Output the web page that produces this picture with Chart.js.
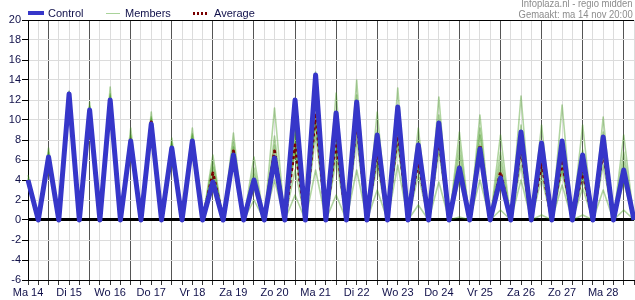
<!DOCTYPE html>
<html><head><meta charset="utf-8">
<script src="https://cdn.jsdelivr.net/npm/chart.js@4/dist/chart.umd.min.js"></script>
<style>
html,body{margin:0;padding:0;background:#fff;}
#wrap{position:relative;width:635px;height:300px;overflow:hidden;}
canvas{position:absolute;left:0;top:0;}
.lg{position:absolute;font-family:"Liberation Sans",Arial,sans-serif;font-size:11px;line-height:11px;color:#10104a;white-space:nowrap;}
.sw{position:absolute;}
.src{position:absolute;right:2px;font-family:"Liberation Sans Narrow","Liberation Sans",Arial,sans-serif;font-size:11px;line-height:11px;color:#8c8c8c;white-space:nowrap;text-align:right;transform:scaleX(0.86);transform-origin:right top;}
</style></head>
<body><div id="wrap">
<canvas id="c" width="635" height="300"></canvas>
<div class="sw" style="left:28px;top:11px;width:16px;height:4px;background:#3636c9"></div>
<div class="lg" style="left:48px;top:8px">Control</div>
<div class="sw" style="left:106px;top:13px;width:14px;height:1px;background:#a9d39a"></div>
<div class="lg" style="left:125px;top:8px">Members</div>
<div class="sw" style="left:193px;top:12px;width:14px;height:3px;background:repeating-linear-gradient(90deg,#7a0000 0 2px,transparent 2px 4px)"></div>
<div class="lg" style="left:214px;top:8px">Average</div>
<div class="src" style="top:-2px">Infoplaza.nl - regio midden</div>
<div class="src" style="top:9px">Gemaakt: ma 14 nov 20:00</div>
</div>
<script>
const times = ['ma14 12','ma14 18',
'di15 00','di15 06','di15 12','di15 18',
'wo16 00','wo16 06','wo16 12','wo16 18',
'do17 00','do17 06','do17 12','do17 18',
'vr18 00','vr18 06','vr18 12','vr18 18',
'za19 00','za19 06','za19 12','za19 18',
'zo20 00','zo20 06','zo20 12','zo20 18',
'ma21 00','ma21 06','ma21 12','ma21 18',
'di22 00','di22 06','di22 12','di22 18',
'wo23 00','wo23 06','wo23 12','wo23 18',
'do24 00','do24 06','do24 12','do24 18',
'vr25 00','vr25 06','vr25 12','vr25 18',
'za26 00','za26 06','za26 12','za26 18',
'zo27 00','zo27 06','zo27 12','zo27 18',
'ma28 00','ma28 06','ma28 12','ma28 18',
'di29 00','di29 06'];
const dayTicks = ['Ma 14','Di 15','Wo 16','Do 17','Vr 18','Za 19','Zo 20','Ma 21','Di 22','Wo 23','Do 24','Vr 25','Za 26','Zo 27','Ma 28'];
const yTicksMin = -6, yTicksMax = 20, yStep = 2;

const control = [4.0,0,6.3,0,12.6,0,11.0,0,12.0,0,7.9,0,9.6,0,7.2,0,7.9,0,3.8,0,6.5,0,4.0,0,6.2,0,12.0,0,14.5,0,10.7,0,11.8,0,8.5,0,11.3,0,7.5,0,9.7,0,5.2,0,7.1,0,4.2,0,8.8,0,7.7,0,7.9,0,6.5,0,8.3,0,5.0,0];
const average = [4.0,0,6.4,0,12.6,0,11.0,0,12.1,0,8.0,0,9.8,0,7.3,0,8.1,0,4.7,0,6.9,0,4.0,0,6.9,0,7.5,0,10.7,0,8.0,0,10.0,0,7.0,0,9.0,0,6.0,0,8.3,0,5.3,0,7.5,0,4.8,0,7.3,0,5.7,0,6.0,0,4.9,0,7.0,0,5.0,0];
const member1 = [4.0,0,6.3,0,12.6,0,11.0,0,12.0,0,7.9,0,9.7,0,7.2,0,8.0,0,4.2,0,6.6,0,3.8,0,6.0,0,7.8,0,10.5,0,8.2,0,10.2,0,7.0,0,9.0,0,6.2,0,8.5,0,5.5,0,7.5,0,5.0,0,7.2,0,6.0,0,6.0,0,5.0,0,7.2,0,5.2,0];
const member2 = [4.1,0,6.6,0,12.7,0,11.3,0,12.4,0,8.3,0,10.1,0,7.6,0,8.4,0,5.3,0,7.3,0,4.6,0,7.5,0,8.6,0,12.0,0,9.5,0,11.5,0,8.2,0,10.5,0,7.2,0,9.5,0,6.5,0,8.5,0,5.8,0,8.5,0,6.8,0,7.0,0,5.8,0,8.0,0,5.8,0];
const member3 = [3.9,0,6.0,0,12.4,0,10.6,0,11.7,0,7.6,0,9.4,0,6.9,0,7.7,0,3.8,0,6.2,0,3.2,0,5.2,0,5.0,0,8.5,0,6.0,0,8.0,0,5.5,0,7.5,0,4.5,0,6.8,0,4.0,0,6.2,0,3.5,0,5.5,0,4.2,0,4.8,0,3.2,0,5.5,0,3.8,0];
const member4 = [4.5,0,7.2,0,12.9,0,11.8,0,13.3,0,9.2,0,10.8,0,8.2,0,9.2,0,6.5,0,8.7,0,6.3,0,11.2,0,10.0,0,14.8,0,12.7,0,14.0,0,10.8,0,13.2,0,9.2,0,12.3,0,8.8,0,10.5,0,8.5,0,12.4,0,9.5,0,11.5,0,9.5,0,10.3,0,8.5,0];
const member5 = [4.0,0,6.4,0,12.5,0,10.9,0,12.1,0,8.0,0,9.8,0,7.4,0,8.1,0,4.6,0,6.8,0,4.0,0,6.5,0,7.2,0,10.0,0,7.5,0,9.5,0,6.5,0,8.5,0,5.8,0,8.0,0,5.0,0,7.0,0,4.5,0,6.8,0,5.5,0,5.5,0,4.5,0,6.8,0,4.8,0];
const member6 = [3.8,0,5.8,0,12.3,0,10.2,0,11.5,0,7.0,0,9.0,0,6.0,0,7.3,0,3.2,0,5.6,0,2.0,0,4.0,0,2.5,0,5.0,0,2.5,0,5.0,0,3.0,0,5.5,0,1.5,0,3.8,0,0.3,0,4.0,0,1.0,0,4.0,0,0.5,0,3.5,0,0.5,0,3.0,0,1.0,0];
const member7 = [4.2,0,6.8,0,12.8,0,11.4,0,12.6,0,8.5,0,10.3,0,7.8,0,8.6,0,5.8,0,7.8,0,5.2,0,8.4,0,9.2,0,13.0,0,10.5,0,12.5,0,9.0,0,11.0,0,8.0,0,10.5,0,7.5,0,9.2,0,6.8,0,9.5,0,7.8,0,8.0,0,7.0,0,8.8,0,6.8,0];
const member8 = [4.0,0,6.2,0,12.6,0,10.8,0,11.9,0,7.7,0,9.6,0,7.1,0,7.9,0,4.4,0,6.5,0,3.5,0,6.2,0,6.8,0,9.8,0,7.0,0,9.0,0,6.2,0,8.0,0,5.5,0,7.5,0,4.8,0,6.8,0,4.2,0,6.5,0,5.2,0,5.2,0,4.2,0,6.5,0,4.5,0];
const members = [member1,member2,member3,member4,member5,member6,member7,member8];

const FONT = {family:'"Liberation Sans", Arial, sans-serif', size:11};
const TXT = '#10104a';

const datasets = members.map((m,i)=>({
  label:'Members', data:m, borderColor:'rgba(60,150,20,0.40)', borderWidth:1.6,
  pointRadius:0, tension:0, order:3, fill:false, borderJoinStyle:'round'
}));
datasets.push({label:'Average', data:average, borderColor:'#7a0000', borderWidth:3, borderDash:[3,3], pointRadius:0, tension:0, order:2, fill:false, borderJoinStyle:'round'});
datasets.push({label:'Control', data:control, borderColor:'#3636c9', borderWidth:5, pointRadius:0, tension:0, order:1, fill:false, borderJoinStyle:'round'});

new Chart(document.getElementById('c'), {
  type:'line',
  data:{labels:times, datasets},
  options:{
    responsive:false, animation:false, devicePixelRatio:1,
    layout:{padding:{top:20,left:0,right:0,bottom:0}},
    plugins:{legend:{display:false}, tooltip:{enabled:false}},
    scales:{
      x:{
        type:'category', offset:false,
        grid:{color:c=> (c.index%4===2 ? '#555' : '#dcdcdc'), lineWidth:1, tickLength:5, tickColor:'#333', offset:false},
        border:{color:'#000', width:1},
        ticks:{autoSkip:false, maxRotation:0, minRotation:0, padding:1, color:TXT, font:FONT,
          callback:(v,i)=> (i%4===0 ? dayTicks[i/4] : '')},
        afterFit:s=>{s.height=20;}
      },
      y:{
        min:yTicksMin, max:yTicksMax, z:-1,
        ticks:{stepSize:yStep, color:TXT, font:FONT, padding:1},
        grid:{color:c=> (c.tick.value===0||c.tick.value===20 ? '#000' : '#dcdcdc'),
              lineWidth:c=> (c.tick.value===0 ? 3 : 1), tickLength:6, tickColor:'#000', tickWidth:1},
        border:{color:'#000', width:1},
        afterFit:s=>{s.width=28;}
      }
    }
  }
});
</script>
</body></html>
